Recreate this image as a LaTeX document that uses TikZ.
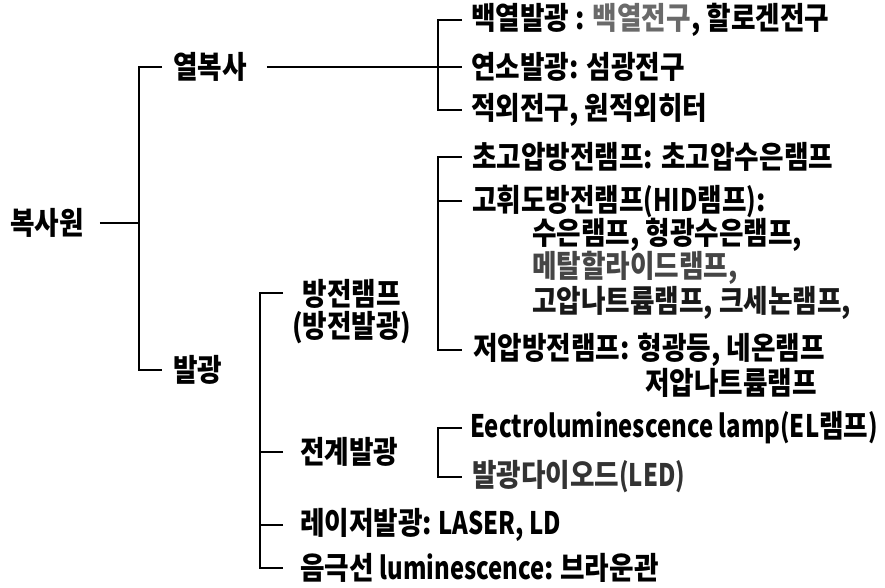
\documentclass[tikz,border=0pt]{standalone}
\usepackage{fontspec}
\newfontfamily\kr{Noto Sans CJK KR}[FakeStretch=0.86]
\newfontfamily\krlat{Noto Sans CJK KR}[FakeStretch=0.77]
\newcommand\lat[1]{{\krlat\bfseries\fontsize{31}{34}\selectfont #1}}
\definecolor{gA}{HTML}{6A6A6A}
\definecolor{gB}{HTML}{454545}
\definecolor{gC}{HTML}{333333}
\begin{document}
\begin{tikzpicture}[x=1pt,y=-1pt,
  lbl/.style={anchor=west,inner sep=0pt,font=\kr\bfseries\fontsize{31}{34}\selectfont},
  ln/.style={line width=2.9pt,line cap=butt,line join=miter}]
\useasboundingbox (0,0) rectangle (885,587);
% root
\node[lbl] (root) at (10,223) {복사원};
\node[lbl] (yeol) at (173,67) {열복사};
\node[lbl] (bal) at (173,370) {발광};
% heat radiation leaves
\node[lbl] (l1) at (471,20) {백열발광 : \textcolor{gA}{백열전구}, 할로겐전구};
\node[lbl] (l2) at (471,67) {연소발광: 섬광전구};
\node[lbl] (l3) at (471,110) {적외전구, 원적외히터};
% luminescence children
\node[lbl,align=center] (bj) at (292,312) {방전램프\\[-2pt](방전발광)};
\node[lbl] (jg) at (300,452) {전계발광};
\node[lbl] (laser) at (300,525) {레이저발광:\hspace{-2pt} \lat{LASER, LD}};
\node[lbl] (cath) at (300,568) {음극선 \lat{luminescence}:\hspace{-2pt} 브라운관};
% discharge lamps
\node[lbl] (d1) at (472,157) {초고압방전램프: 초고압수은램프};
\node[lbl] (d2) at (472,201) {고휘도방전램프\lat{(HID}램프\lat{)}:};
\node[lbl] (d2a) at (532,235) {수은램프, 형광수은램프,};
\node[lbl,text=gB] (d2b) at (532,268) {메탈할라이드램프,};
\node[lbl,text=black!90] (d2c) at (532,303) {고압나트륨램프, 크세논램프,};
\node[lbl] (d3) at (473,350) {저압방전램프: 형광등, 네온램프};
\node[lbl] (d3a) at (645,383) {저압나트륨램프};
% electroluminescence
\node[lbl] (e1) at (470,428) {\lat{Eectroluminescence lamp(EL}램프\lat{)}};
\node[lbl,text=gC] (e2) at (472,477) {발광다이오드\lat{(LED)}};
% connectors
\coordinate (x0) at (139,0);
\coordinate (x1) at (438,0);
\coordinate (x2) at (260,0);
\draw[ln] ([xshift=16pt]root.east) -- (root.east -| x0);
\draw[ln] ([xshift=-11pt]yeol.west) -- (yeol.west -| x0) -- (bal.west -| x0) -- ([xshift=-11pt]bal.west);
\draw[ln] ([xshift=20pt]yeol.east) -- ([xshift=-9pt]l2.west);
\draw[ln] ([xshift=-9pt]l1.west) -- (l1.west -| x1) -- (l3.west -| x1) -- ([xshift=-9pt]l3.west);
\draw[ln] ([xshift=-10pt]d1.west) -- (d1.west -| x1) -- (d3.west -| x1) -- ([xshift=-11pt]d3.west);
\draw[ln] ([xshift=-10pt]d2.west) -- (d2.west -| x1);
\draw[ln] ([xshift=-8pt]e1.west) -- (e1.west -| x1) -- (e2.west -| x1) -- ([xshift=-10pt]e2.west);
\draw[ln] (283,293) -- (260,293) -- (cath.west -| x2) -- ([xshift=-17pt]cath.west);
\draw[ln] ([xshift=-17pt]jg.west) -- (jg.west -| x2);
\draw[ln] ([xshift=-17pt]laser.west) -- (laser.west -| x2);
\end{tikzpicture}
\end{document}
